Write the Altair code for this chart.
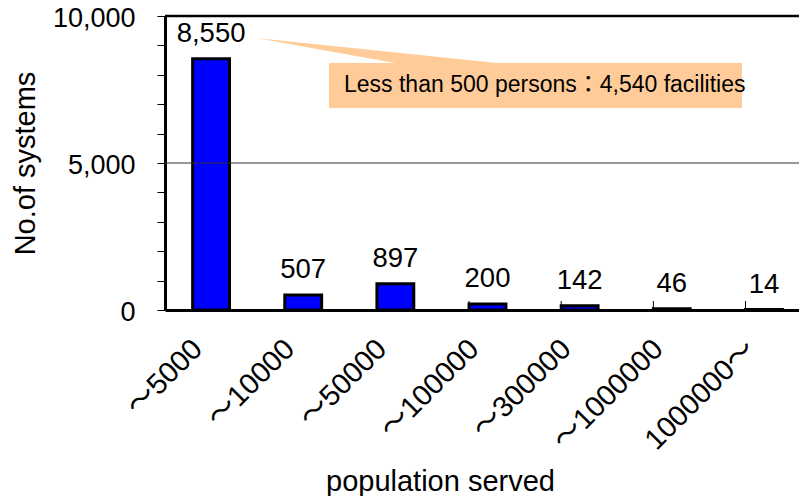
import altair as alt
import pandas as pd

categories = ["～5000", "～10000", "～50000", "～100000", "～300000", "～1000000", "1000000～"]
values = [8550, 507, 897, 200, 142, 46, 14]
y_ticks = [0, 1000, 2000, 3000, 4000, 5000, 6000, 7000, 8000, 9000, 10000]
grid_values = [5000]
top_values = [10000]
callout_text = "Less than 500 persons：4,540 facilities"

df = pd.DataFrame({"cat": categories, "n": values})
grid_df = pd.DataFrame({"v": grid_values})
top_df = pd.DataFrame({"v": top_values})

W, H = 634, 294
RANGE_W = 645
FONT = "'Liberation Sans', Arial, 'Noto Sans CJK JP'"

xscale = alt.Scale(domain=categories, paddingInner=0.6, paddingOuter=0.3, range=[0, RANGE_W])
yscale = alt.Scale(domain=[0, 10000], nice=False)

x_axis = alt.Axis(
    title="population served", labels=False, ticks=False,
    domain=True, domainColor="black", domainWidth=3,
    titleFont=FONT, titleFontSize=29, titleFontWeight="normal",
    titleColor="black", titleX=275, titleY=171, titleBaseline="middle",
    titleAlign="center",
)
y_axis = alt.Axis(
    title="No.of systems", values=y_ticks, labelOverlap=False,
    labelExpr="datum.value % 5000 == 0 ? format(datum.value, ',') : ''",
    labelFont=FONT, labelFontSize=27, labelColor="black", labelOffset=2,
    labelPadding=22, tickSize=8, tickColor="black", tickWidth=1,
    domainColor="black", domainWidth=3, grid=False,
    titleFont=FONT, titleFontSize=29, titleFontWeight="normal",
    titleColor="black", titlePadding=12,
)

def X(**kw):
    return alt.X("cat:N", sort=categories, scale=xscale, axis=x_axis, title="population served", **kw)

def Y(field):
    return alt.Y(field, scale=yscale, axis=y_axis, title="No.of systems")

bars = alt.Chart(df).mark_bar(color="#0000FF", stroke="black", strokeWidth=3).encode(
    x=X(), y=Y("n:Q")
)

grid = alt.Chart(grid_df).mark_rule(color="#333", strokeWidth=1).encode(
    y=Y("v:Q"), x=alt.value(0), x2=alt.value(RANGE_W),
)
top = alt.Chart(top_df).mark_rule(color="black", strokeWidth=2.5).encode(
    y=Y("v:Q"), x=alt.value(0), x2=alt.value(RANGE_W),
)

labels = alt.Chart(df).mark_text(
    baseline="alphabetic", dy=-17, font=FONT, fontSize=27.5, color="black"
).encode(
    x=X(), y=Y("n:Q"),
    text=alt.Text("n:Q", format=","),
)

xlabels = alt.Chart(df).mark_text(
    angle=315, align="right", baseline="middle", font=FONT, fontSize=29,
    color="black", dx=-9.5, dy=-9.5
).encode(
    x=X(), y=alt.value(H + 34.5), text="cat:N"
)

xticks = alt.Chart(df).mark_rule(color="black", strokeWidth=1).encode(
    x=X(bandPosition=0),
    y=alt.value(H - 9),
    y2=alt.value(H),
)

pointer = alt.Chart(pd.DataFrame({"t": [callout_text]})).mark_point(
    shape="M0,0 L139,25 L241,25 Z", size=4, filled=True, fill="#FFCC99",
    opacity=1, strokeWidth=0
).encode(x=alt.value(91), y=alt.value(22))

box = alt.Chart(pd.DataFrame({"t": [callout_text]})).mark_rect(color="#FFCC99").encode(
    x=alt.value(164), x2=alt.value(577), y=alt.value(47), y2=alt.value(92)
)

box_text = alt.Chart(pd.DataFrame({"t": [callout_text]})).mark_text(
    align="left", baseline="middle", font=FONT, fontSize=23, color="black"
).encode(x=alt.value(179), y=alt.value(69), text="t:N")

chart = alt.layer(bars, grid, top, xticks, labels, xlabels, pointer, box, box_text).properties(
    width=W, height=H,
    autosize=alt.AutoSizeParams(type="none"),
    padding={"left": 157, "top": 8, "right": 0, "bottom": 186},
).configure_view(stroke=None).configure(background="white")

chart.save("out.html", embed_options={"renderer": "svg", "actions": False})
